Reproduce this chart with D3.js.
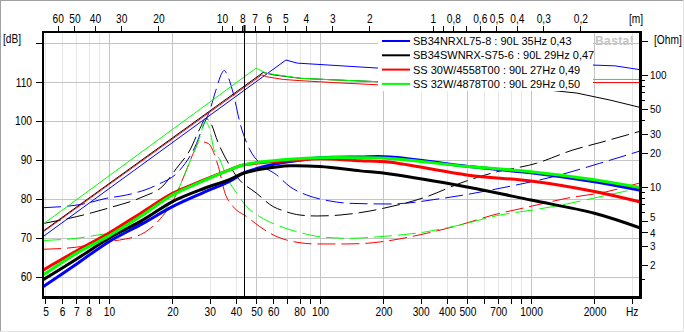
<!DOCTYPE html>
<html><head><meta charset="utf-8">
<script src="https://cdn.jsdelivr.net/npm/d3@7"></script>
<style>html,body{margin:0;padding:0;background:#fff;overflow:hidden}svg{display:block}</style>
</head><body><svg id="c" width="684" height="332"></svg>
<script>
// ---------------- data ----------------
const seriesNames = ["SB34NRXL75-8 : 90L 35Hz 0,43","SB34SWNRX-S75-6 : 90L 29Hz 0,47","SS 30W/4558T00 : 90L 27Hz 0,49","SS 32W/4878T00 : 90L 29Hz 0,50"];
const seriesColors = ["#0000ff","#000000","#ff0000","#00ff00"];

// SPL response (thick, left axis dB)
const splFreq  = [4.87, 7, 10, 14.5, 20, 28, 37, 43.3, 55, 72, 100, 155, 215, 505, 1000, 2000, 3300];
const splBlue  = [57.4, 63.2, 69.0, 73.7, 78.0, 81.6, 84.4, 86.6, 88.4, 89.6, 90.6, 90.8, 90.8, 88.3, 86.7, 84.4, 82.2];
const splBlack = [59.2, 64.5, 69.9, 74.6, 79.3, 82.6, 84.9, 86.6, 87.8, 88.5, 88.3, 87.2, 86.4, 83.0, 79.7, 76.3, 72.5];
const splRed   = [61.7, 66.6, 71.2, 76.7, 81.4, 84.8, 87.4, 88.7, 89.4, 89.8, 90.3, 89.8, 89.4, 86.1, 84.6, 81.9, 79.2];
const splGreen = [60.4, 66.0, 70.5, 75.9, 81.0, 84.6, 87.4, 88.7, 89.6, 90.2, 90.6, 90.6, 90.4, 88.3, 87.0, 84.9, 82.9];

// max SPL (thin, left axis dB)
const maxBlueF  = [4.87, 69, 78, 192, 800, 1970, 2500, 3300];
const maxBlueDB = [70.3, 115.7, 114.9, 113.6, 114.0, 114.4, 114.2, 113.2];
const maxBlackF  = [4.87, 53.8, 60, 80.4, 115.6, 192, 800, 1650, 2370, 3300];
const maxBlackDB = [71.7, 112.5, 111.9, 111.0, 110.6, 110.1, 109.0, 107.2, 105.4, 103.5];
const maxRedF  = [4.87, 53, 55.9, 67, 80.4, 115.6, 192, 1970, 3300];
const maxRedDB = [71.5, 111.9, 111.4, 110.7, 110.4, 109.9, 109.3, 109.9, 109.9];
const maxGreenF  = [4.87, 49.8, 55.9, 80.4, 115.6, 192, 1970, 3300];
const maxGreenDB = [73.5, 113.6, 112.3, 111.0, 110.6, 110.1, 110.7, 110.7];

// impedance (dashed, right axis Ohm)
const impBlueF = [4.87, 7.55, 9.75, 12.1, 16.8, 21.7, 26.0, 28.1, 30.1, 32.1, 34.4, 35.2, 36.1, 38.8, 41.8, 46.6, 51.9, 62.4, 72.1, 86.5, 111.5, 138.7, 214.7, 383, 713, 1371, 2122, 3300];
const impBlueZ = [6.53, 7.05, 7.93, 8.48, 10.4, 14.2, 24.5, 36, 48.7, 73, 105, 110, 103, 68.7, 37.1, 21.4, 16.3, 12.8, 10.06, 8.48, 7.5, 7.15, 7.05, 7.93, 9.74, 12.8, 16.3, 21.0];
const impBlackF = [4.87, 7.0, 10.08, 14.5, 18.0, 20.9, 24.2, 27.0, 28.8, 30.1, 33.0, 36.1, 40.3, 50.1, 60.1, 67.0, 80.4, 96.4, 124.4, 154.7, 199.6, 320.5, 461, 661, 1064, 1581, 2122, 3300];
const impBlackZ = [4.72, 5.43, 6.53, 8.19, 10.2, 14.7, 21.4, 33.4, 40.9, 38.3, 24.5, 17.4, 12.4, 8.78, 6.67, 6.14, 5.62, 5.51, 5.62, 5.9, 6.45, 8.19, 10.8, 13.4, 16.3, 21.4, 24.9, 31.5];
const impRedF = [4.87, 7.0, 9.37, 11.2, 14.5, 17.5, 20.1, 23.3, 25.1, 27.0, 29.5, 33.0, 35.5, 38.8, 45, 51.9, 58, 69.5, 80.4, 96.4, 133.8, 178.9, 222, 320.5, 461, 661, 955, 1477, 2286, 3300];
const impRedZ = [2.78, 2.90, 3.25, 3.36, 3.86, 5.2, 7.5, 14.2, 20, 25.5, 24.5, 15.2, 8.78, 6.67, 5.43, 4.42, 3.86, 3.36, 3.18, 3.10, 3.10, 3.18, 3.36, 3.86, 4.58, 5.62, 6.59, 7.93, 9.08, 10.9];
const impGreenF = [4.87, 7.0, 9.37, 11.2, 14.0, 17.4, 20.1, 23.3, 25.1, 27.0, 28.5, 30.1, 31.2, 33.6, 36.1, 40.3, 45, 51.9, 62.4, 77.6, 100, 138.7, 192, 320.5, 461, 713, 1021, 1477, 2122, 3300];
const impGreenZ = [3.33, 3.48, 3.78, 3.91, 4.65, 5.86, 7.65, 14.2, 20, 28.1, 38.3, 32.3, 22.9, 17.4, 12.4, 8.78, 6.67, 5.43, 4.58, 3.99, 3.6, 3.48, 3.6, 3.99, 4.58, 5.62, 6.23, 7.05, 8.19, 9.8];

// axes / ticks
const bottomTickVals = [5,6,7,8,9,10,20,30,40,50,60,70,80,90,100,200,300,400,500,600,700,800,900,1000,2000,3000];
const bottomLabelVals = [5,6,7,8,10,20,30,40,50,60,80,100,200,300,400,500,700,1000,2000];
const topTickVals = [60,50,40,30,20,10,9,8,7,6,5,4,3,2,1,0.9,0.8,0.7,0.6,0.5,0.4,0.3,0.2];
const topLabelVals = [60,50,40,30,20,10,8,7,6,5,4,3,2,1,0.8,0.6,0.5,0.4,0.3,0.2];
const dbTickVals = [60,70,80,90,100,110,120];
const dbLabelVals = [60,70,80,90,100,110];
const ohmMajorVals = [2,3,4,5,10,20,30,50,100,200];
const ohmLabelVals = [2,3,4,5,10,20,30,50,100];
const ohmMinorVals = [1.5,6,7,8,9,40,60,70,80,90];
const gridMajorF = [10,20,50,100,200,500,1000,2000];
const gridMinorF = [5,6,7,8,9,30,40,60,70,80,90,300,400,600,700,800,900,3000];
const markerFreq = 43.5;
const soundSpeed = 343;

// ---------------- layout ----------------
const svg = d3.select("#c");
const L = 43, R = 640, T = 32, B = 297;
const x = d3.scaleLog().domain([4.867, 3287]).range([L, R]);
const xm = d3.scaleLog().domain([soundSpeed/4.867, soundSpeed/3287]).range([L, R]);
const yL = d3.scaleLinear().domain([54.78, 122.9]).range([B, T]);
const yR = d3.scaleLog().domain([1.042, 242]).range([B, T]);
const FONT = "'Liberation Sans', Arial, sans-serif";
const CX = 0.85;

function condense(sel, k) {
  sel.each(function () {
    const t = d3.select(this);
    const xv = +(t.attr("x") || 0);
    t.attr("x", xv / k).attr("transform", `scale(${k},1)`);
  });
}

// outer frame
svg.append("rect").attr("x",0).attr("y",0).attr("width",684).attr("height",332).attr("fill","#fff");
svg.append("line").attr("x1",0).attr("x2",684).attr("y1",0.5).attr("y2",0.5).attr("stroke","#a0a0a0");
svg.append("line").attr("x1",0.5).attr("x2",0.5).attr("y1",0).attr("y2",332).attr("stroke","#a0a0a0");
svg.append("line").attr("x1",0).attr("x2",684).attr("y1",331.5).attr("y2",331.5).attr("stroke","#e3e3e3");
svg.append("line").attr("x1",683.5).attr("x2",683.5).attr("y1",0).attr("y2",332).attr("stroke","#e3e3e3");

svg.append("clipPath").attr("id","pc").append("rect").attr("x",L).attr("y",T).attr("width",R-L).attr("height",B-T);
const plot = svg.append("g").attr("clip-path","url(#pc)").style("shape-rendering","crispEdges");

// grid
plot.selectAll(".gmin").data(gridMinorF).join("line")
  .attr("x1", d => Math.round(x(d)) + 0.5).attr("x2", d => Math.round(x(d)) + 0.5)
  .attr("y1", T).attr("y2", B).attr("stroke", "#e6e6e6");
plot.selectAll(".gmaj").data(gridMajorF).join("line")
  .attr("x1", d => Math.round(x(d)) + 0.5).attr("x2", d => Math.round(x(d)) + 0.5)
  .attr("y1", T).attr("y2", B).attr("stroke", "#c4c4c4");
plot.selectAll(".gh").data(dbTickVals).join("line")
  .attr("x1", L).attr("x2", R)
  .attr("y1", d => Math.round(yL(d)) + 0.5).attr("y2", d => Math.round(yL(d)) + 0.5)
  .attr("stroke", "#c4c4c4");

const zip = (f, v) => f.map((d, i) => [d, v[i]]);
const lineL = d3.line().x(d => x(d[0])).y(d => yL(d[1]));
const lineR = d3.line().x(d => x(d[0])).y(d => yR(d[1])).curve(d3.curveMonotoneX);
const lineS = d3.line().x(d => x(d[0])).y(d => yL(d[1])).curve(d3.curveCatmullRom.alpha(0.5));

const imp = [zip(impBlueF, impBlueZ), zip(impBlackF, impBlackZ), zip(impRedF, impRedZ), zip(impGreenF, impGreenZ)];
const mx = [zip(maxBlueF, maxBlueDB), zip(maxBlackF, maxBlackDB), zip(maxRedF, maxRedDB), zip(maxGreenF, maxGreenDB)];
const spl = [splBlue, splBlack, splRed, splGreen].map(v => zip(splFreq, v));

const curves = plot.append("g").style("shape-rendering","auto");
imp.forEach((d, i) => curves.append("path").attr("d", lineR(d)).attr("fill","none")
  .attr("stroke", seriesColors[i]).attr("stroke-width", 1).attr("stroke-dasharray","18,6"));
mx.forEach((d, i) => curves.append("path").attr("d", lineL(d)).attr("fill","none")
  .attr("stroke", seriesColors[i]).attr("stroke-width", 1));
spl.forEach((d, i) => curves.append("path").attr("d", lineS(d)).attr("fill","none")
  .attr("stroke", seriesColors[i]).attr("stroke-width", 3));

// marker line
plot.append("line").attr("x1", Math.round(x(markerFreq)) + 0.5).attr("x2", Math.round(x(markerFreq)) + 0.5)
  .attr("y1", T).attr("y2", B).attr("stroke", "#000");

// legend
const lg = svg.append("g");
lg.append("rect").attr("x", 378).attr("y", 33).attr("width", 215).attr("height", 58).attr("fill", "#fff");
seriesNames.forEach((n, i) => {
  const cy = 41 + i * 14.3;
  lg.append("line").attr("x1", 382).attr("x2", 410).attr("y1", cy).attr("y2", cy)
    .attr("stroke", seriesColors[i]).attr("stroke-width", 2);
  lg.append("text").attr("x", 413).attr("y", cy + 4).text(n)
    .attr("font-family", FONT).attr("font-size", 11).attr("fill", "#000");
});

// watermark
svg.append("text").attr("x", 595).attr("y", 45).text("Basta!")
  .attr("font-family", FONT).attr("font-weight", "bold").attr("font-size", 12)
  .attr("letter-spacing", 0.4).attr("fill", "#c4c4c4");

// frame
svg.append("line").attr("x1", L - 1).attr("x2", R).attr("y1", T).attr("y2", T).attr("stroke", "#000").attr("stroke-width", 2);
svg.append("line").attr("x1", L).attr("x2", L).attr("y1", T - 1).attr("y2", B + 2).attr("stroke", "#000").attr("stroke-width", 2);
svg.append("line").attr("x1", L - 1).attr("x2", R + 2).attr("y1", B + 0.5).attr("y2", B + 0.5).attr("stroke", "#000").attr("stroke-width", 3);
svg.append("line").attr("x1", R + 0.5).attr("x2", R + 0.5).attr("y1", T - 1).attr("y2", B + 2).attr("stroke", "#000").attr("stroke-width", 3);

function styleAxis(g, fs) {
  g.select(".domain").remove();
  g.selectAll("line").attr("stroke", "#000").style("shape-rendering","crispEdges");
  g.selectAll("text").attr("font-family", FONT).attr("font-size", fs || 12).attr("fill", "#000");
}

// bottom axis
const gb = svg.append("g").attr("transform", `translate(0,${B + 2})`)
  .call(d3.axisBottom(x).tickValues(bottomTickVals).tickSize(5).tickPadding(3)
    .tickFormat(d => d === 3000 ? "Hz" : (bottomLabelVals.includes(d) ? String(d) : "")));
styleAxis(gb); condense(gb.selectAll("text"), CX);

// top axis (wavelength)
const gt = svg.append("g").attr("transform", `translate(0,${T - 1})`)
  .call(d3.axisTop(xm).tickValues(topTickVals).tickSize(5).tickPadding(3)
    .tickFormat(d => topLabelVals.includes(d) ? String(d).replace(".", ",") : ""));
styleAxis(gt); condense(gt.selectAll("text"), CX);
svg.append("line").attr("x1", Math.round(x(markerFreq)) + 0.5).attr("x2", Math.round(x(markerFreq)) + 0.5)
  .attr("y1", T - 7).attr("y2", T).attr("stroke", "#000").attr("stroke-width", 2);
const mt = svg.append("text").attr("x", 636).attr("y", 23).text("[m]").attr("text-anchor","middle")
  .attr("font-family", FONT).attr("font-size", 12);
condense(mt, CX);

// left axis
const gl = svg.append("g").attr("transform", `translate(${L - 1},0)`)
  .call(d3.axisLeft(yL).tickValues(dbTickVals).tickSize(6).tickPadding(4)
    .tickFormat(d => dbLabelVals.includes(d) ? String(d) : ""));
styleAxis(gl); condense(gl.selectAll("text"), CX);
const dbl = svg.append("text").attr("x", 3).attr("y", 43).text("[dB]")
  .attr("font-family", FONT).attr("font-size", 12);
condense(dbl, CX);

// right axis
const gr = svg.append("g").attr("transform", `translate(${R + 2},0)`)
  .call(d3.axisRight(yR).tickValues(ohmMajorVals).tickSize(6).tickPadding(2)
    .tickFormat(d => ohmLabelVals.includes(d) ? String(d) : ""));
styleAxis(gr, 11); condense(gr.selectAll("text"), 0.9);
gr.selectAll(".tick text").attr("dy", d => d === 5 ? "-0.05em" : (d === 4 ? "0.45em" : "0.32em"));
const gr2 = svg.append("g").attr("transform", `translate(${R + 2},0)`)
  .call(d3.axisRight(yR).tickValues(ohmMinorVals).tickSize(3).tickFormat(""));
styleAxis(gr2);
const ohl = svg.append("text").attr("x", 654).attr("y", 44).text("[Ohm]")
  .attr("font-family", FONT).attr("font-size", 12);
condense(ohl, CX);
</script></body></html>
